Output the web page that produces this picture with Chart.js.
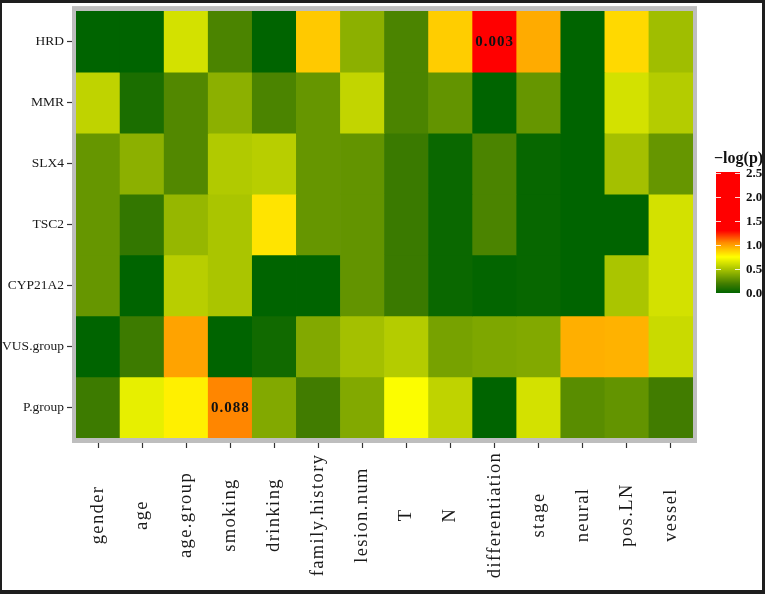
<!DOCTYPE html>
<html>
<head>
<meta charset="utf-8">
<script src="https://cdn.jsdelivr.net/npm/chart.js@4.4.1/dist/chart.umd.min.js"></script>
<style>
  html, body { margin: 0; padding: 0; background: #fff; }
  #wrap { width: 765px; height: 594px; position: relative; }
</style>
</head>
<body>
<div id="wrap"><canvas id="heat"></canvas></div>
<script>
// clinical features (x) and gene groups (y, top to bottom)
const columns = ['gender', 'age', 'age.group', 'smoking', 'drinking', 'family.history', 'lesion.num',
                 'T', 'N', 'differentiation', 'stage', 'neural', 'pos.LN', 'vessel'];
const rowNames = ['HRD', 'MMR', 'SLX4', 'TSC2', 'CYP21A2', 'VUS.group', 'P.group'];

// -log(p), same order as columns
const HRD      = [0.00, 0.00, 0.62, 0.22, 0.00, 0.89, 0.41, 0.22, 0.88, 2.52, 0.97, 0.00, 0.85, 0.47];
const MMR      = [0.56, 0.08, 0.24, 0.41, 0.22, 0.30, 0.57, 0.22, 0.29, 0.00, 0.30, 0.00, 0.62, 0.53];
const SLX4     = [0.30, 0.41, 0.24, 0.52, 0.54, 0.30, 0.29, 0.17, 0.03, 0.22, 0.02, 0.00, 0.48, 0.30];
const TSC2     = [0.30, 0.15, 0.44, 0.50, 0.82, 0.30, 0.29, 0.17, 0.03, 0.22, 0.02, 0.00, 0.00, 0.62];
const CYP21A2  = [0.30, 0.00, 0.54, 0.50, 0.00, 0.00, 0.29, 0.17, 0.03, 0.01, 0.02, 0.00, 0.50, 0.62];
const VUSgroup = [0.00, 0.18, 0.99, 0.00, 0.05, 0.38, 0.48, 0.53, 0.35, 0.37, 0.38, 0.96, 0.95, 0.59];
const Pgroup   = [0.18, 0.68, 0.79, 1.06, 0.38, 0.19, 0.38, 0.74, 0.56, 0.00, 0.62, 0.26, 0.29, 0.19];
const rowValues = [HRD, MMR, SLX4, TSC2, CYP21A2, VUSgroup, Pgroup];

// p values printed inside tiles
const pLabels = [
  { row: 'HRD', col: 'differentiation', text: '0.003' },
  { row: 'P.group', col: 'smoking', text: '0.088' }
];
const legendTicks = [0, 0.5, 1, 1.5, 2, 2.5];
const legendMax = 2.52;

// darkgreen -> yellow -> red
const stops = [
  [0.00, [0, 100, 0]],
  [0.188, [64, 124, 0]],
  [0.375, [128, 168, 0]],
  [0.75, [255, 255, 0]],
  [1.05, [255, 140, 0]],
  [1.30, [255, 0, 0]],
  [9.99, [255, 0, 0]]
];
function colorFor(v) {
  for (let i = 1; i < stops.length; i++) {
    if (v <= stops[i][0]) {
      const [v0, c0] = stops[i - 1], [v1, c1] = stops[i];
      const t = Math.max(0, (v - v0) / (v1 - v0));
      const c = c0.map((x, k) => Math.round(x + (c1[k] - x) * t));
      return `rgb(${c[0]},${c[1]},${c[2]})`;
    }
  }
  return 'rgb(255,0,0)';
}

const nRows = rowNames.length;
const serif = "'Liberation Serif', 'DejaVu Serif', serif";

// one floating-bar dataset per row
const datasets = rowValues.map((vals, k) => ({
  label: rowNames[k],
  data: vals.map(() => [nRows - 1 - k, nRows - k]),
  backgroundColor: vals.map(colorFor),
  borderWidth: 0,
  barPercentage: 1,
  categoryPercentage: 1,
  grouped: false
}));

const decor = {
  id: 'decor',
  beforeDatasetsDraw(chart) {
    const { ctx, chartArea: a } = chart;
    ctx.save();
    ctx.fillStyle = '#bebebe';
    ctx.fillRect(a.left - 4, a.top - 5, a.right - a.left + 8, a.bottom - a.top + 10);
    ctx.restore();
  },
  afterDraw(chart) {
    const { ctx } = chart;
    const xs = chart.scales.x, ys = chart.scales.y;
    ctx.save();

    // x labels, rotated and centred below the axis
    ctx.fillStyle = '#1a1a1a';
    ctx.font = `18.5px ${serif}`;
    ctx.letterSpacing = '1.4px';
    ctx.textAlign = 'center';
    ctx.textBaseline = 'middle';
    columns.forEach((c, i) => {
      ctx.save();
      ctx.translate(xs.getPixelForValue(i), 515);
      ctx.rotate(-Math.PI / 2);
      ctx.fillText(c, 0, 0);
      ctx.restore();
    });

    // p values in tiles
    ctx.fillStyle = '#111';
    ctx.font = `bold 15px ${serif}`;
    ctx.letterSpacing = '1px';
    pLabels.forEach(p => {
      const x = xs.getPixelForValue(columns.indexOf(p.col));
      const y = ys.getPixelForValue(nRows - 0.5 - rowNames.indexOf(p.row));
      ctx.fillText(p.text, x, y + 1);
    });

    // colour bar
    const bx = 716, bw = 24, bTop = 172, bBot = 293;
    const toY = v => bBot - v / legendMax * (bBot - bTop);
    for (let y = bTop; y < bBot; y++) {
      const v = (bBot - y - 0.5) / (bBot - bTop) * legendMax;
      ctx.fillStyle = colorFor(v);
      ctx.fillRect(bx, y, bw, 1);
    }
    ctx.strokeStyle = 'rgba(255,255,255,0.85)';
    ctx.lineWidth = 1;
    ctx.letterSpacing = '0px';
    ctx.font = `bold 13px ${serif}`;
    ctx.textAlign = 'left';
    legendTicks.forEach(t => {
      const y = Math.round(toY(t)) + 0.5;
      ctx.beginPath();
      ctx.moveTo(bx, y); ctx.lineTo(bx + 5, y);
      ctx.moveTo(bx + bw - 5, y); ctx.lineTo(bx + bw, y);
      ctx.stroke();
      ctx.fillStyle = '#111';
      ctx.fillText(t.toFixed(1), 746, y);
    });
    ctx.font = `bold 16px ${serif}`;
    ctx.textBaseline = 'alphabetic';
    ctx.fillText('\u2212log(p)', 714, 163);

    // dark outer frame
    ctx.fillStyle = '#1e1e1e';
    ctx.fillRect(0, 0, 765, 3);
    ctx.fillRect(0, 0, 2, 594);
    ctx.fillRect(762, 0, 3, 594);
    ctx.fillRect(0, 590, 765, 4);
    ctx.restore();
  }
};

new Chart(document.getElementById('heat'), {
  type: 'bar',
  data: { labels: columns, datasets },
  options: {
    responsive: true,
    maintainAspectRatio: false,
    animation: false,
    layout: { padding: { top: 8, right: 72, left: 0, bottom: 0 } },
    plugins: { legend: { display: false }, tooltip: { enabled: false } },
    scales: {
      x: {
        type: 'category',
        offset: true,
        grid: { offset: false, drawOnChartArea: false, tickLength: 10, tickColor: '#333', tickWidth: 1.2 },
        border: { display: false },
        ticks: { display: false },
        afterFit: s => { s.height = 156; }
      },
      y: {
        min: 0,
        max: nRows,
        grid: { drawOnChartArea: false, tickLength: 9, tickColor: '#333', tickWidth: 1.2 },
        border: { display: false },
        afterBuildTicks: s => { s.ticks = rowNames.map((_, i) => ({ value: nRows - 0.5 - i })); },
        ticks: {
          color: '#1a1a1a',
          padding: 3,
          font: { family: serif, size: 13.5 },
          callback: v => rowNames[Math.round(nRows - 0.5 - v)]
        },
        afterFit: s => { s.width = 76; }
      }
    }
  },
  plugins: [decor]
});
</script>
</body>
</html>
